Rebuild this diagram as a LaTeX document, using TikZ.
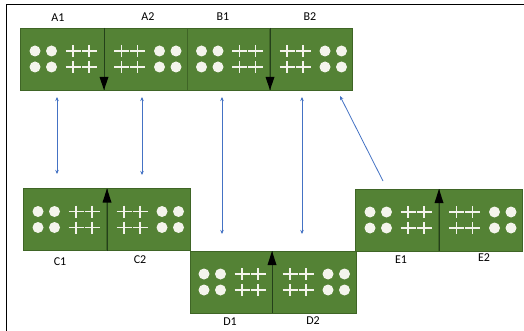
\documentclass[tikz,border=0pt]{standalone}
\usepackage{fontspec}
\setmainfont{Carlito}
\usetikzlibrary{arrows.meta}
\definecolor{tilegreen}{HTML}{548235}
\definecolor{tileedge}{HTML}{3F6526}
\definecolor{divline}{HTML}{24401A}
\definecolor{linkblue}{HTML}{4472C4}
\definecolor{markwhite}{HTML}{F4F4EC}
\tikzset{
  half/.style={draw=tileedge, fill=tilegreen, line width=0.8pt, minimum width=#1, minimum height=62pt, inner sep=0pt, outer sep=0pt},
  half/.default=83pt,
  lbl/.style={font=\fontsize{12}{14}\selectfont, inner sep=0pt},
  dot/.style={fill=markwhite, draw=none},
  crs/.style={draw=markwhite, line width=1.3pt},
  link/.style={draw=linkblue, line width=0.8pt, {Stealth[length=4pt,width=3.5pt]}-{Stealth[length=4pt,width=3.5pt]}},
  link1/.style={draw=linkblue, line width=0.8pt, -{Stealth[length=4pt,width=3.5pt]}},
  tri/.style={fill=black, draw=none},
  pics/dots/.style={code={
    \fill[dot] (0,-8) circle (5.5pt); \fill[dot] (16.5,-8) circle (5.5pt);
    \fill[dot] (0,8) circle (5.5pt); \fill[dot] (16.5,8) circle (5.5pt);}},
  pics/crosses/.style={code={
    \foreach \cx in {0,16}{\foreach \cy in {-8,8}{
      \draw[crs] (\cx-7.5,\cy) -- (\cx+7.5,\cy) (\cx,\cy-6) -- (\cx,\cy+6);}}}}
}
\newcommand{\lefthalf}[1]{\pic at ([xshift=-27pt]#1.center) {dots}; \pic at ([xshift=11pt]#1.center) {crosses};}
\newcommand{\righthalf}[1]{\pic at ([xshift=-24pt]#1.center) {crosses}; \pic at ([xshift=14pt]#1.center) {dots};}
\begin{document}
\begin{tikzpicture}[x=1pt,y=-1pt]
\useasboundingbox (0,0) rectangle (524,331);
\fill[white] (0,0) rectangle (524,331);
% frame
\draw[line width=1.5pt] (6.5,331) -- (6.5,4.5) -- (524,4.5);
% top row
\node[half=84pt] (A1) at (62,59) {};
\node[half=83pt] (A2) at (145.5,59) {};
\node[half=83pt] (B1) at (228.5,59) {};
\node[half=83pt] (B2) at (311,59) {};
% bottom rows
\node[half=84pt] (C1) at (65,219.5) {};
\node[half=84pt] (C2) at (148,219.5) {};
\node[half=82pt] (D1) at (231,282) {};
\node[half=84pt] (D2) at (314,282) {};
\node[half=84pt] (E1) at (397,220) {};
\node[half=84pt] (E2) at (480.5,220) {};
% contents
\lefthalf{A1}\righthalf{A2}\lefthalf{B1}\righthalf{B2}
\lefthalf{C1}\righthalf{C2}\lefthalf{D1}\righthalf{D2}
\lefthalf{E1}\righthalf{E2}
% dividers
\foreach \n in {A1,B1,C1,D1,E1}{\draw[divline, line width=0.8pt] (\n.north east) -- (\n.south east);}
% triangles
\fill[tri] (A1.south east) -- ++(-4.5,-13) -- ++(9,0) -- cycle;
\fill[tri] (B1.south east) -- ++(-4.5,-13) -- ++(9,0) -- cycle;
\fill[tri] (C1.north east) -- ++(-4.5,14) -- ++(9,0) -- cycle;
\fill[tri] (D1.north east) -- ++(-4.5,14) -- ++(9,0) -- cycle;
\fill[tri] (E1.north east) -- ++(-4.5,14) -- ++(9,0) -- cycle;
% labels
\node[lbl] (lA1) at (58,18) {A1};
\node[lbl] (lA2) at (148,17) {A2};
\node[lbl] (lB1) at (223,17) {B1};
\node[lbl] (lB2) at (310,17) {B2};
\node[lbl] (lC1) at (60,262) {C1};
\node[lbl] (lC2) at (140,260) {C2};
\node[lbl] (lD1) at (230,322) {D1};
\node[lbl] (lD2) at (313,321) {D2};
\node[lbl] (lE1) at (401,260) {E1};
\node[lbl] (lE2) at (484,258) {E2};
% link end points
\coordinate (a1t) at (57,97);  \coordinate (c1t) at (57,174);
\coordinate (a2t) at (142,97); \coordinate (c2t) at (142,175);
\coordinate (b1t) at (222,97); \coordinate (d1t) at (222,234);
\coordinate (b2t) at (302,97); \coordinate (d2t) at (302,234);
\coordinate (e1t) at (383,181); \coordinate (b2r) at (340,96);
\draw[link] (a1t) -- (c1t);
\draw[link] (a2t) -- (c2t);
\draw[link] (b1t) -- (d1t);
\draw[link] (b2t) -- (d2t);
\draw[link1] (e1t) -- (b2r);
\end{tikzpicture}
\end{document}
